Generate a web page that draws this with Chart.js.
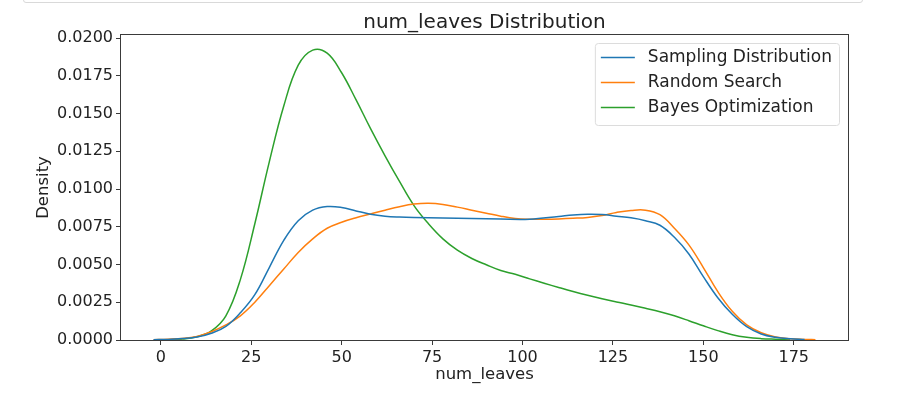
<!DOCTYPE html>
<html>
<head>
<meta charset="utf-8">
<title>num_leaves Distribution</title>
<script src="https://cdn.jsdelivr.net/npm/chart.js@4.4.0/dist/chart.umd.min.js"></script>
<style>
    html, body { margin: 0; padding: 0; background: #fff; }
    #wrap { position: relative; width: 897px; height: 393px; overflow: hidden; }
    #cell { position: absolute; left: 23px; top: -10px; width: 838px; height: 11px;
            border: 1px solid #d9d9d9; border-radius: 3px; }
    canvas { position: absolute; left: 0; top: 0; }
</style>
</head>
<body>
<div id="wrap">
    <div id="cell"></div>
    <canvas id="kde-chart" width="897" height="393"></canvas>
</div>

<script>
// ===== dados (curvas KDE de num_leaves) =====

const seriesNames = ['Sampling Distribution', 'Random Search', 'Bayes Optimization'];
const seriesColors = ['#1f77b4', '#ff7f0e', '#2ca02c'];

const samplingX = [-2, 2, 6, 10, 14, 18, 22, 26, 30, 34, 38, 42, 46, 50, 54, 58, 62, 66, 70, 78, 86, 94, 102, 110, 114, 118, 122, 126, 130, 134, 138, 142, 146, 150, 154, 158, 162, 166, 170, 174, 178];
const samplingY = [0.00002, 0.00004, 0.0001, 0.0002, 0.00045, 0.0009, 0.0018, 0.003, 0.0048, 0.0066, 0.0079, 0.0086, 0.00884, 0.00878, 0.00855, 0.00833, 0.0082, 0.00814, 0.00811, 0.00808, 0.00805, 0.00801, 0.008, 0.00818, 0.00828, 0.00833, 0.00831, 0.0082, 0.00809, 0.0079, 0.0076, 0.0068, 0.0057, 0.0042, 0.0028, 0.0017, 0.00088, 0.0004, 0.00018, 0.00008, 0.00003];

const randomX = [-2, 2, 6, 10, 14, 18, 22, 26, 30, 34, 38, 42, 46, 50, 54, 58, 62, 66, 70, 74, 78, 82, 86, 90, 94, 98, 102, 106, 110, 114, 118, 122, 126, 130, 134, 138, 142, 146, 150, 154, 158, 162, 166, 170, 174, 178, 181];
const randomY = [0.00002, 0.00005, 0.0001, 0.00024, 0.00055, 0.001, 0.0016, 0.0025, 0.0036, 0.0047, 0.0058, 0.0067, 0.0074, 0.0078, 0.0081, 0.00835, 0.0086, 0.00883, 0.009, 0.00905, 0.00898, 0.0088, 0.0086, 0.0084, 0.0082, 0.00805, 0.008, 0.008, 0.00802, 0.00806, 0.00812, 0.00825, 0.00845, 0.00858, 0.0086, 0.0083, 0.0074, 0.0063, 0.0048, 0.0032, 0.0019, 0.001, 0.00048, 0.0002, 0.00009, 0.00004, 0.00002];

const bayesX = [2, 6, 10, 14, 18, 22, 26, 30, 34, 38, 42, 46, 50, 54, 58, 62, 66, 70, 74, 78, 82, 86, 90, 94, 98, 102, 106, 110, 114, 118, 122, 126, 130, 134, 138, 142, 146, 150, 154, 158, 162, 166, 170, 174];
const bayesY = [0.00002, 0.00006, 0.00022, 0.0006, 0.0016, 0.004, 0.0077, 0.0118, 0.0155, 0.0182, 0.0192, 0.019, 0.0177, 0.0159, 0.014, 0.0122, 0.0105, 0.0089, 0.0077, 0.0067, 0.00595, 0.0054, 0.00498, 0.0046, 0.00435, 0.00405, 0.00376, 0.00348, 0.00321, 0.00296, 0.00273, 0.00252, 0.00232, 0.0021, 0.00187, 0.0016, 0.00128, 0.00094, 0.00062, 0.00035, 0.00018, 0.00009, 0.00005, 0.00002];

const xTicks = [0, 25, 50, 75, 100, 125, 150, 175];
const yTicks = [0, 0.0025, 0.005, 0.0075, 0.01, 0.0125, 0.015, 0.0175, 0.02];

const FONT = "'DejaVu Sans', sans-serif";
const INK = '#222';
const AXIS = '#3a3a3a';

function toPoints(xs, ys) {
    return xs.map((x, i) => ({ x: x, y: ys[i] }));
}

// moldura completa em volta da área do gráfico (estilo matplotlib)
const framePlugin = {
    id: 'frame',
    afterDatasetsDraw(chart) {
        const a = chart.chartArea;
        const ctx = chart.ctx;
        ctx.save();
        ctx.strokeStyle = AXIS;
        ctx.lineWidth = 1;
        ctx.strokeRect(Math.round(a.left) - 0.5, Math.round(a.top) - 0.5,
                       Math.round(a.right - a.left) + 1, Math.round(a.bottom - a.top) + 1);
        ctx.restore();
    }
};

// legenda dentro do gráfico, canto superior direito
const insideLegend = {
    id: 'insideLegend',
    afterDraw(chart) {
        const a = chart.chartArea;
        const ctx = chart.ctx;
        ctx.save();
        ctx.font = '17px ' + FONT;
        const textW = Math.max(...chart.data.datasets.map(d => ctx.measureText(d.label).width));
        const boxW = 6 + 34 + 13 + textW + 7;
        const boxH = 82;
        const right = a.right - 9;
        const left = right - boxW;
        const top = a.top + 8;

        ctx.beginPath();
        ctx.roundRect(left + 0.5, top + 0.5, boxW, boxH, 3);
        ctx.fillStyle = 'rgba(255,255,255,0.8)';
        ctx.fill();
        ctx.strokeStyle = '#dcdcdc';
        ctx.lineWidth = 1;
        ctx.stroke();

        chart.data.datasets.forEach((d, i) => {
            const y = top + 14.5 + i * 25;
            ctx.beginPath();
            ctx.moveTo(left + 6, y);
            ctx.lineTo(left + 40, y);
            ctx.strokeStyle = d.borderColor;
            ctx.lineWidth = 1.5;
            ctx.stroke();
            ctx.fillStyle = INK;
            ctx.textBaseline = 'middle';
            ctx.textAlign = 'left';
            ctx.fillText(d.label, left + 53, y);
        });
        ctx.restore();
    }
};

const ctx = document.getElementById('kde-chart').getContext('2d');

const kdeChart = new Chart(ctx, {
    type: 'line',
    data: {
        datasets: [
            { label: seriesNames[0], data: toPoints(samplingX, samplingY), borderColor: seriesColors[0] },
            { label: seriesNames[1], data: toPoints(randomX, randomY), borderColor: seriesColors[1] },
            { label: seriesNames[2], data: toPoints(bayesX, bayesY), borderColor: seriesColors[2] }
        ].map(ds => Object.assign(ds, {
            borderWidth: 1.5,
            pointRadius: 0,
            fill: false,
            tension: 0.4
        }))
    },
    options: {
        responsive: false,
        animation: false,
        layout: { padding: { left: 0, right: 49, top: 0, bottom: 0 } },
        plugins: {
            legend: { display: false },
            tooltip: { enabled: false },
            title: {
                display: true,
                text: 'num_leaves Distribution',
                fullSize: false,
                color: INK,
                font: { family: FONT, size: 20, weight: 'normal' },
                padding: { top: 11, bottom: 0 }
            }
        },
        scales: {
            x: {
                type: 'linear',
                min: -11,
                max: 190,
                afterFit: scale => { scale.height = 53; },
                afterBuildTicks: scale => { scale.ticks = xTicks.map(v => ({ value: v })); },
                grid: { drawOnChartArea: false, drawTicks: true, tickLength: 5, color: AXIS },
                border: { display: false },
                ticks: {
                    color: INK,
                    padding: 3,
                    maxRotation: 0,
                    font: { family: FONT, size: 16 },
                    callback: v => String(v)
                },
                title: {
                    display: true,
                    text: 'num_leaves',
                    color: INK,
                    font: { family: FONT, size: 16.5 },
                    padding: { top: 0, bottom: 8 }
                }
            },
            y: {
                type: 'linear',
                min: 0,
                max: 0.0202,
                afterFit: scale => { scale.width = 121; },
                afterBuildTicks: scale => { scale.ticks = yTicks.map(v => ({ value: v })); },
                grid: { drawOnChartArea: false, drawTicks: true, tickLength: 5, color: AXIS },
                border: { display: false },
                ticks: {
                    color: INK,
                    padding: 3,
                    font: { family: FONT, size: 16 },
                    callback: v => Number(v).toFixed(4)
                },
                title: {
                    display: true,
                    text: 'Density',
                    color: INK,
                    font: { family: FONT, size: 16.5 },
                    padding: { top: 34, bottom: 0 }
                }
            }
        }
    },
    plugins: [framePlugin, insideLegend]
});
</script>
</body>
</html>
